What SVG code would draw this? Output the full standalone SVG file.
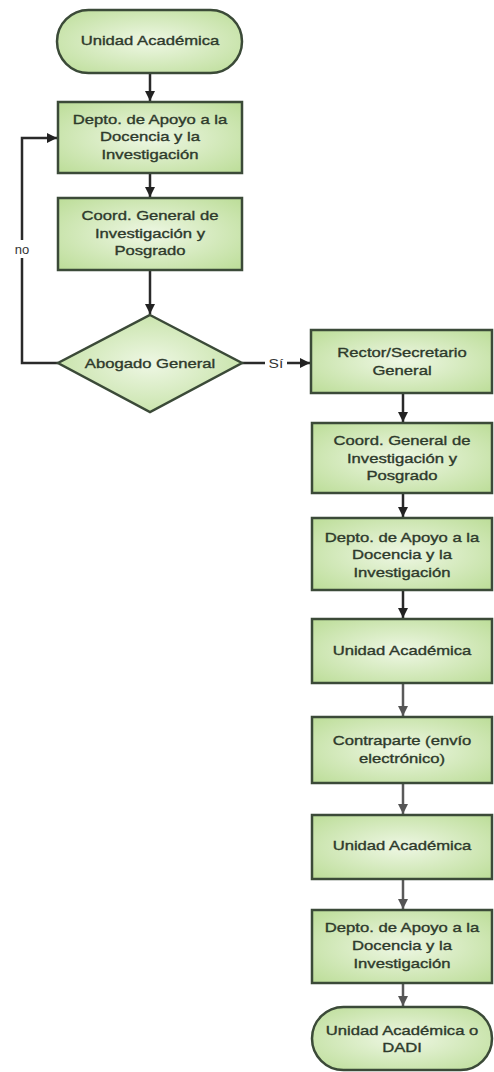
<svg xmlns="http://www.w3.org/2000/svg" width="494" height="1072" viewBox="0 0 494 1072">
<defs>
<radialGradient id="g" cx="50%" cy="50%" r="70%">
<stop offset="0" stop-color="#eef7e4"/>
<stop offset="1" stop-color="#bcdd98"/>
</radialGradient>
<marker id="ab" markerWidth="10" markerHeight="12" refX="10" refY="5" orient="auto" markerUnits="userSpaceOnUse" viewBox="0 0 10 10">
<path d="M0,0 L10,5 L0,10 Z" fill="#222"/>
</marker>
<marker id="ag" markerWidth="10" markerHeight="12" refX="10" refY="5" orient="auto" markerUnits="userSpaceOnUse" viewBox="0 0 10 10">
<path d="M0,0 L10,5 L0,10 Z" fill="#555"/>
</marker>
</defs>
<style>
.n{fill:url(#g);stroke:#3b4a38;stroke-width:2.5}
.t{font-family:"Liberation Sans",Arial,sans-serif;font-size:13px;fill:#2e3a2c;stroke:#2e3a2c;stroke-width:0.35;text-anchor:middle}
.c{fill:none;stroke:#2a2a2a;stroke-width:2.5}
.cg{fill:none;stroke:#5a5a5a;stroke-width:2.5}
.l{font-family:"Liberation Sans",Arial,sans-serif;font-size:13px;fill:#333;text-anchor:middle}
</style>
<rect width="494" height="1072" fill="#fff"/>
<g id="connectors">
<line class="c" x1="150" y1="73" x2="150" y2="101" marker-end="url(#ab)"/>
<line class="c" x1="150" y1="173" x2="150" y2="197" marker-end="url(#ab)"/>
<line class="c" x1="150" y1="270" x2="150" y2="314" marker-end="url(#ab)"/>
<path class="c" d="M58,363 H22 V138 H57" marker-end="url(#ab)"/>
<rect x="12" y="240" width="20" height="18" fill="#fff"/>
<text class="l" x="22" y="254">no</text>
<line class="c" x1="242" y1="363" x2="310" y2="363" marker-end="url(#ab)"/>
<rect x="265" y="354" width="22" height="18" fill="#fff"/>
<text class="l" x="276" y="368" transform="translate(276 0) scale(1.2 1) translate(-276 0)">Sí</text>
<line class="c" x1="403" y1="393" x2="403" y2="422" marker-end="url(#ab)"/>
<line class="c" x1="403" y1="493" x2="403" y2="517" marker-end="url(#ab)"/>
<line class="c" x1="403" y1="590" x2="403" y2="618" marker-end="url(#ab)"/>
<line class="cg" x1="403" y1="683" x2="403" y2="716" marker-end="url(#ag)"/>
<line class="cg" x1="403" y1="783" x2="403" y2="814" marker-end="url(#ag)"/>
<line class="cg" x1="403" y1="879" x2="403" y2="909" marker-end="url(#ag)"/>
<line class="cg" x1="403" y1="983" x2="403" y2="1006" marker-end="url(#ag)"/>
</g>
<g id="t1">
<rect class="n" x="57" y="10" width="185" height="63" rx="31.5"/>
<g transform="translate(150 0) scale(1.28 1)"><text class="t" x="0" y="45">Unidad Académica</text></g>
</g>
<g id="b1">
<rect class="n" x="58" y="102" width="184" height="71"/>
<g transform="translate(150 0) scale(1.28 1)"><text class="t" x="0" y="124">Depto. de Apoyo a la</text><text class="t" x="0" y="141">Docencia y la</text><text class="t" x="0" y="159">Investigación</text></g>
</g>
<g id="b2">
<rect class="n" x="58" y="198" width="184" height="72"/>
<g transform="translate(150 0) scale(1.28 1)"><text class="t" x="0" y="220">Coord. General de</text><text class="t" x="0" y="238">Investigación y</text><text class="t" x="0" y="255">Posgrado</text></g>
</g>
<g id="d1">
<polygon class="n" points="150,315 242,363 150,412 58,363"/>
<g transform="translate(150 0) scale(1.28 1)"><text class="t" x="0" y="368">Abogado General</text></g>
</g>
<g id="b3">
<rect class="n" x="311" y="330" width="181" height="63"/>
<g transform="translate(402 0) scale(1.28 1)"><text class="t" x="0" y="357">Rector/Secretario</text><text class="t" x="0" y="375">General</text></g>
</g>
<g id="b4">
<rect class="n" x="312" y="423" width="180" height="70"/>
<g transform="translate(402 0) scale(1.28 1)"><text class="t" x="0" y="445">Coord. General de</text><text class="t" x="0" y="463">Investigación y</text><text class="t" x="0" y="480">Posgrado</text></g>
</g>
<g id="b5">
<rect class="n" x="312" y="518" width="180" height="72"/>
<g transform="translate(402 0) scale(1.28 1)"><text class="t" x="0" y="542">Depto. de Apoyo a la</text><text class="t" x="0" y="559">Docencia y la</text><text class="t" x="0" y="577">Investigación</text></g>
</g>
<g id="b6">
<rect class="n" x="312" y="619" width="180" height="64"/>
<g transform="translate(402 0) scale(1.28 1)"><text class="t" x="0" y="655">Unidad Académica</text></g>
</g>
<g id="b7">
<rect class="n" x="312" y="717" width="180" height="66"/>
<g transform="translate(402 0) scale(1.28 1)"><text class="t" x="0" y="745">Contraparte (envío</text><text class="t" x="0" y="763">electrónico)</text></g>
</g>
<g id="b8">
<rect class="n" x="312" y="815" width="180" height="64"/>
<g transform="translate(402 0) scale(1.28 1)"><text class="t" x="0" y="850">Unidad Académica</text></g>
</g>
<g id="b9">
<rect class="n" x="312" y="910" width="180" height="73"/>
<g transform="translate(402 0) scale(1.28 1)"><text class="t" x="0" y="932">Depto. de Apoyo a la</text><text class="t" x="0" y="950">Docencia y la</text><text class="t" x="0" y="968">Investigación</text></g>
</g>
<g id="t2">
<rect class="n" x="312" y="1007" width="180" height="63" rx="31.5"/>
<g transform="translate(402 0) scale(1.28 1)"><text class="t" x="0" y="1035">Unidad Académica o</text><text class="t" x="0" y="1052">DADI</text></g>
</g>
</svg>
